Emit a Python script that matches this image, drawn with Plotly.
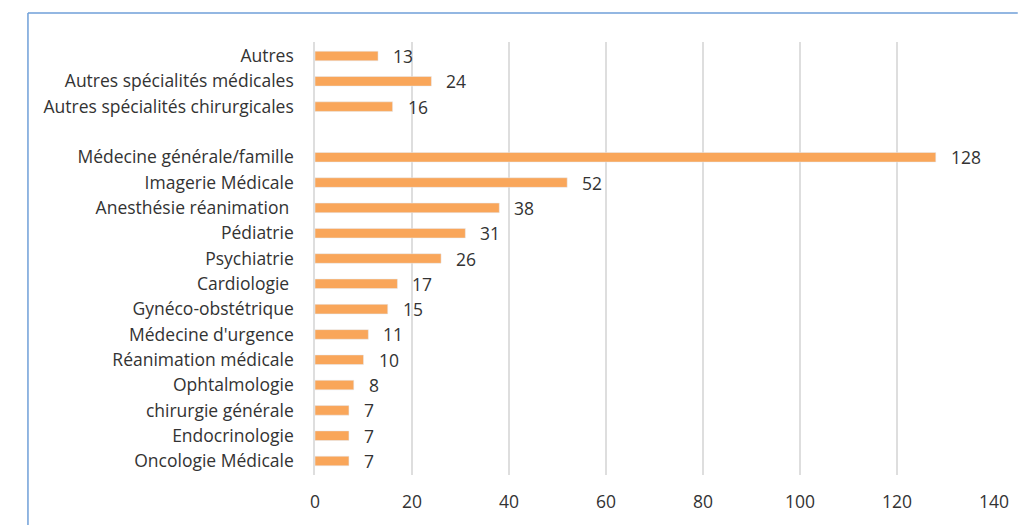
import plotly.graph_objects as go

# Specialties, listed top to bottom; the blank entry separates the "Autres" group
categories = [
    "Autres",
    "Autres spécialités médicales",
    "Autres spécialités chirurgicales",
    " ",
    "Médecine générale/famille",
    "Imagerie Médicale",
    "Anesthésie réanimation ",
    "Pédiatrie",
    "Psychiatrie",
    "Cardiologie ",
    "Gynéco-obstétrique",
    "Médecine d'urgence",
    "Réanimation médicale",
    "Ophtalmologie",
    "chirurgie générale",
    "Endocrinologie",
    "Oncologie Médicale",
]
counts = [13, 24, 16, None, 128, 52, 38, 31, 26, 17, 15, 11, 10, 8, 7, 7, 7]
x_ticks = [0, 20, 40, 60, 80, 100, 120, 140]

BAR = "#F9A65A"
TEXT = "#333333"
GRID = "#DEDEDE"
FRAME = "#6F9FD8"
FONT = "Open Sans"
FS = 17.5

W, H = 1021, 525
ML, MR, MT, MB = 315, 20, 42, 49
pw, ph = W - ML - MR, H - MT - MB

fig = go.Figure(
    go.Bar(
        y=categories,
        x=counts,
        orientation="h",
        marker=dict(color=BAR),
        width=0.38,
        hoverinfo="skip",
    )
)

# value labels just past each bar end
for c, v in zip(categories, counts):
    if v is None:
        continue
    fig.add_annotation(
        x=v, y=c, text=str(v), showarrow=False,
        xanchor="left", xshift=13,
        font=dict(family=FONT, size=FS, color=TEXT),
    )

# outer chart frame (top and left edges)
def px_x(p):
    return (p - ML) / pw

def px_y(p):
    return (H - MB - p) / ph

fig.add_shape(type="line", xref="paper", yref="paper",
              x0=px_x(25), x1=px_x(1025), y0=px_y(13), y1=px_y(13),
              line=dict(color=FRAME, width=1.5))
fig.add_shape(type="line", xref="paper", yref="paper",
              x0=px_x(25), x1=px_x(25), y0=px_y(13), y1=px_y(530),
              line=dict(color=FRAME, width=1.5))

fig.update_layout(
    width=W, height=H,
    margin=dict(l=ML, r=MR, t=MT, b=MB),
    paper_bgcolor="white", plot_bgcolor="white",
    showlegend=False,
    font=dict(family=FONT, size=FS, color=TEXT),
    xaxis=dict(
        range=[0, 140], tickvals=x_ticks,
        showgrid=True, gridcolor=GRID, gridwidth=1.5,
        zeroline=False, showline=False,
        ticks="", ticklen=0, ticklabelstandoff=14,
        tickfont=dict(family=FONT, size=FS, color=TEXT),
        fixedrange=True,
    ),
    yaxis=dict(
        type="category", categoryorder="array", categoryarray=categories,
        autorange="reversed",
        showgrid=False, zeroline=False,
        showline=True, linecolor=GRID, linewidth=1.5,
        ticks="", ticklabelstandoff=16,
        tickfont=dict(family=FONT, size=FS, color=TEXT),
        fixedrange=True,
    ),
)

fig.write_html("out.html")
